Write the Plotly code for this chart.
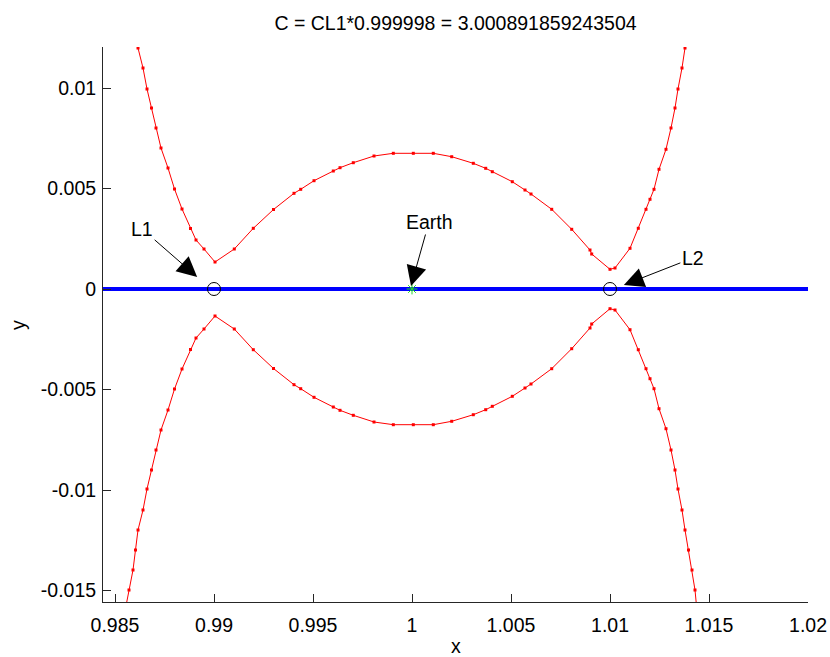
import plotly.graph_objects as go

# ---- data ----
upper_x = [0.985505, 0.985707, 0.985909, 0.986035, 0.986162, 0.986414, 0.986616, 0.986843,
           0.987071, 0.987323, 0.987677, 0.988005, 0.988384, 0.988813, 0.989091, 0.989495,
           0.990051,
           0.991025, 0.991985, 0.993005, 0.994040, 0.994379, 0.995051, 0.996025, 0.996364,
           0.997035, 0.998081, 0.999056, 1.000066, 1.001076, 1.002005, 1.003096, 1.003722,
           1.004056, 1.005066, 1.005707, 1.006010, 1.007056, 1.008066, 1.008990, 1.009076,
           1.010000,
           1.010253, 1.011010, 1.011429, 1.011818, 1.012020, 1.012222, 1.012475, 1.012828,
           1.013081, 1.013283, 1.013434, 1.013636, 1.013788, 1.013965, 1.014141, 1.014293,
           1.014394]
upper_y = [0.01602, 0.014975, 0.01398, 0.012985, 0.01199, 0.010995, 0.00995, 0.009005,
           0.008010, 0.007015, 0.006020, 0.004975, 0.00398, 0.00301, 0.002438, 0.00199,
           0.001343,
           0.00199, 0.00302, 0.003955, 0.004761, 0.004960, 0.005388, 0.005871, 0.006035,
           0.006284, 0.006617, 0.006751, 0.006751, 0.006751, 0.006582, 0.006254, 0.006005,
           0.005836, 0.005338, 0.004925, 0.004726, 0.003965, 0.002970, 0.00194, 0.001741,
           0.00098,
           0.001045, 0.002025, 0.00302, 0.003965, 0.004463, 0.00496, 0.005955, 0.00695,
           0.00801, 0.009005, 0.00995, 0.010995, 0.01199, 0.012985, 0.01398, 0.014975,
           0.01602]
lower_x = list(upper_x)
lower_y = [-v for v in upper_y]

orbit_x = [0.984, 1.021]
orbit_y = [0.0, 0.0]

lagrange_x = [0.99, 1.01]
lagrange_y = [0.0, 0.0]
earth_x = [1.0]
earth_y = [0.0]

x_ticks = [0.985, 0.99, 0.995, 1.0, 1.005, 1.01, 1.015, 1.02]
x_ticklabels = ["0.985", "0.99", "0.995", "1", "1.005", "1.01", "1.015", "1.02"]
y_ticks = [0.01, 0.005, 0.0, -0.005, -0.01, -0.015]
y_ticklabels = ["0.01", "0.005", "0", "-0.005", "-0.01", "-0.015"]

title_text = "C = CL1*0.999998 = 3.000891859243504"

FONT = "Liberation Sans, Arial, sans-serif"
FS = 19.5
W, H = 830, 657
ML, MR, MT, MB = 103, 22, 47, 55
XR = [0.984394, 1.02]
YR = [-0.015572, 0.012040]
GREEN = "#22dd22"

fig = go.Figure()
for xs, ys in ((upper_x, upper_y), (lower_x, lower_y)):
    fig.add_trace(go.Scatter(x=xs, y=ys, mode="lines+markers",
                             line=dict(color="#ff0000", width=1),
                             marker=dict(color="#ff0000", size=3, symbol="square"),
                             cliponaxis=True, showlegend=False))
fig.add_trace(go.Scatter(x=orbit_x, y=orbit_y, mode="lines",
                         line=dict(color="#0000ff", width=4), showlegend=False))
fig.add_trace(go.Scatter(x=lagrange_x, y=lagrange_y, mode="markers",
                         marker=dict(symbol="circle-open", size=13, color="black",
                                     line=dict(width=1, color="black")),
                         showlegend=False))
fig.add_trace(go.Scatter(x=earth_x, y=earth_y, mode="markers",
                         marker=dict(symbol="asterisk-open", size=9, color=GREEN,
                                     line=dict(width=1, color=GREEN)),
                         showlegend=False))

arrow_common = dict(showarrow=True, arrowhead=2, arrowsize=4, arrowwidth=1,
                    arrowcolor="black", font=dict(family=FONT, size=FS, color="black"),
                    xref="x", yref="y", axref="pixel", ayref="pixel")
fig.add_annotation(x=0.98915, y=0.00060, text="L1", ax=-55, ay=-48, **arrow_common)
fig.add_annotation(x=0.99995, y=0.00015, text="Earth", ax=18, ay=-64, **arrow_common)
fig.add_annotation(x=1.01070, y=0.00020, text="L2", ax=69, ay=-27, **arrow_common)

# axis labels
fig.add_annotation(text="x", xref="paper", yref="paper", x=0.5,
                   y=-(646 - 602) / (H - MT - MB), showarrow=False,
                   xanchor="center", yanchor="middle",
                   font=dict(family=FONT, size=FS, color="black"))
fig.add_annotation(text="y", xref="paper", yref="paper",
                   x=-(ML - 18) / (W - ML - MR), y=(602 - 325) / (H - MT - MB),
                   showarrow=False, textangle=-90, xanchor="center", yanchor="middle",
                   font=dict(family=FONT, size=FS, color="black"))

fig.update_layout(
    width=W, height=H, autosize=False,
    margin=dict(l=ML, r=MR, t=MT, b=MB, pad=0, autoexpand=False),
    paper_bgcolor="white", plot_bgcolor="white",
    title=dict(text=title_text, x=(ML + (W - ML - MR) / 2) / W, xanchor="center",
               y=1 - 23 / H, yanchor="middle", yref="container",
               font=dict(family=FONT, size=FS, color="black")),
    font=dict(family=FONT, size=FS, color="black"),
    showlegend=False,
)
fig.update_xaxes(range=XR, tickvals=x_ticks, ticktext=x_ticklabels, automargin=False,
                 showgrid=False, zeroline=False, showline=True, linecolor="#262626",
                 linewidth=1, ticks="inside", ticklen=8, tickcolor="#262626",
                 ticklabelstandoff=6,
                 tickfont=dict(family=FONT, size=FS, color="black"), mirror=False)
fig.update_yaxes(range=YR, tickvals=y_ticks, ticktext=y_ticklabels, automargin=False,
                 showgrid=False, zeroline=False, showline=True, linecolor="#262626",
                 linewidth=1, ticks="inside", ticklen=8, tickcolor="#262626",
                 ticklabelstandoff=2,
                 tickfont=dict(family=FONT, size=FS, color="black"), mirror=False)

fig.write_html("out.html")
